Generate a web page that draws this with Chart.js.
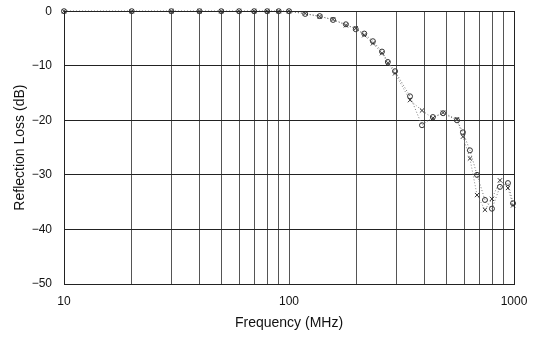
<!DOCTYPE html>
<html>
<head>
<meta charset="utf-8">
<script src="https://cdn.jsdelivr.net/npm/chart.js@4/dist/chart.umd.min.js"></script>
<style>
  html, body { margin: 0; padding: 0; background: #fff; }
  #wrap { width: 540px; height: 341px; }
</style>
</head>
<body>
<div id="wrap"><canvas id="lossChart"></canvas></div>
<script>
// measured frequencies (MHz)
var freqs = [10, 20, 30, 40, 50, 60, 70, 80, 90, 100,
             118, 137, 157, 179, 198, 216, 236, 259, 275, 296,
             345, 390, 436, 484, 558, 593, 637, 685, 743, 798, 866, 940, 990];

// reflection loss, first sample (circles)
var lossA = [0, 0, 0, 0, 0, 0, 0, 0, 0, 0,
             -0.5, -0.9, -1.6, -2.4, -3.3, -4.1, -5.5, -7.4, -9.3, -11.0,
             -15.6, -20.9, -19.4, -18.7, -20.0, -22.2, -25.5, -30.0, -34.6, -36.2, -32.2, -31.5, -35.2];

// reflection loss, second sample (crosses)
var lossB = [0, 0, 0, 0, 0, 0, 0, 0, 0, 0,
             -0.4, -1.0, -1.5, -2.6, -3.1, -4.4, -5.9, -7.7, -9.5, -11.4,
             -16.3, -18.2, -19.6, -18.6, -19.8, -23.0, -27.0, -33.7, -36.4, -34.4, -31.0, -32.4, -35.6];

// gridline positions on the frequency axis
var freqGrid = [10, 20, 30, 40, 50, 60, 70, 80, 90, 100,
                200, 300, 400, 500, 600, 700, 800, 900, 1000];
var freqLabels = [10, 100, 1000];
var lossTicks = [0, -10, -20, -30, -40, -50];

function toPoints(ys) {
    return freqs.map(function (f, i) { return { x: f, y: ys[i] }; });
}

var font = "'Liberation Sans', Arial, sans-serif";

var ctx = document.getElementById('lossChart').getContext('2d');
var lossChart = new Chart(ctx, {
    type: 'line',
    data: {
        datasets: [
            {
                label: 'A',
                data: toPoints(lossA),
                borderColor: '#777',
                borderWidth: 1,
                borderDash: [1, 2],
                pointStyle: 'circle',
                pointRadius: 2.5,
                pointBorderWidth: 1,
                pointBorderColor: '#333',
                pointBackgroundColor: 'rgba(0,0,0,0)',
                tension: 0,
                clip: 5
            },
            {
                label: 'B',
                data: toPoints(lossB),
                borderColor: '#888',
                borderWidth: 1,
                borderDash: [1, 2],
                pointStyle: 'crossRot',
                pointRadius: 3,
                pointBorderWidth: 1,
                pointBorderColor: '#333',
                tension: 0,
                clip: 5
            }
        ]
    },
    options: {
        responsive: true,
        maintainAspectRatio: false,
        animation: false,
        layout: { padding: { left: 12, right: 26, top: 11, bottom: 9 } },
        plugins: {
            legend: { display: false },
            tooltip: { enabled: false }
        },
        scales: {
            x: {
                type: 'logarithmic',
                min: 10,
                max: 1000,
                afterBuildTicks: function (scale) {
                    scale.ticks = freqGrid.map(function (v) { return { value: v }; });
                },
                afterFit: function (scale) { scale.height = 48; },
                border: { display: true, color: '#222', width: 1 },
                grid: { color: '#555', lineWidth: 1, drawTicks: false },
                ticks: {
                    autoSkip: false,
                    maxRotation: 0,
                    padding: 10,
                    color: '#111',
                    font: { family: font, size: 12 },
                    callback: function (value) {
                        return freqLabels.indexOf(value) >= 0 ? String(value) : '';
                    }
                },
                title: {
                    display: true,
                    text: 'Frequency (MHz)',
                    color: '#111',
                    font: { family: font, size: 14 },
                    padding: { top: 4, bottom: 0 }
                }
            },
            y: {
                min: -50,
                max: 0,
                afterBuildTicks: function (scale) {
                    scale.ticks = lossTicks.map(function (v) { return { value: v }; });
                },
                afterFit: function (scale) { scale.width = 52; },
                border: { display: true, color: '#222', width: 1 },
                // invisible tick marks keep the labels clear of the frame
                grid: { color: '#222', lineWidth: 1, drawTicks: true, tickLength: 8, tickColor: 'rgba(0,0,0,0)' },
                ticks: {
                    padding: 4,
                    color: '#111',
                    font: { family: font, size: 12 },
                    callback: function (value) {
                        return value < 0 ? '\u2212' + Math.abs(value) : String(value);
                    }
                },
                title: {
                    display: true,
                    text: 'Reflection Loss (dB)',
                    color: '#111',
                    font: { family: font, size: 14 },
                    padding: { top: 0, bottom: 4 }
                }
            }
        }
    },
    plugins: [{
        // frame round the plot area
        id: 'frame',
        afterDraw: function (chart) {
            var a = chart.chartArea, c = chart.ctx;
            c.save();
            c.strokeStyle = '#222';
            c.lineWidth = 1;
            c.strokeRect(Math.round(a.left) + 0.5, Math.round(a.top) + 0.5,
                         Math.round(a.right - a.left), Math.round(a.bottom - a.top));
            c.restore();
        }
    }]
});
</script>
</body>
</html>
